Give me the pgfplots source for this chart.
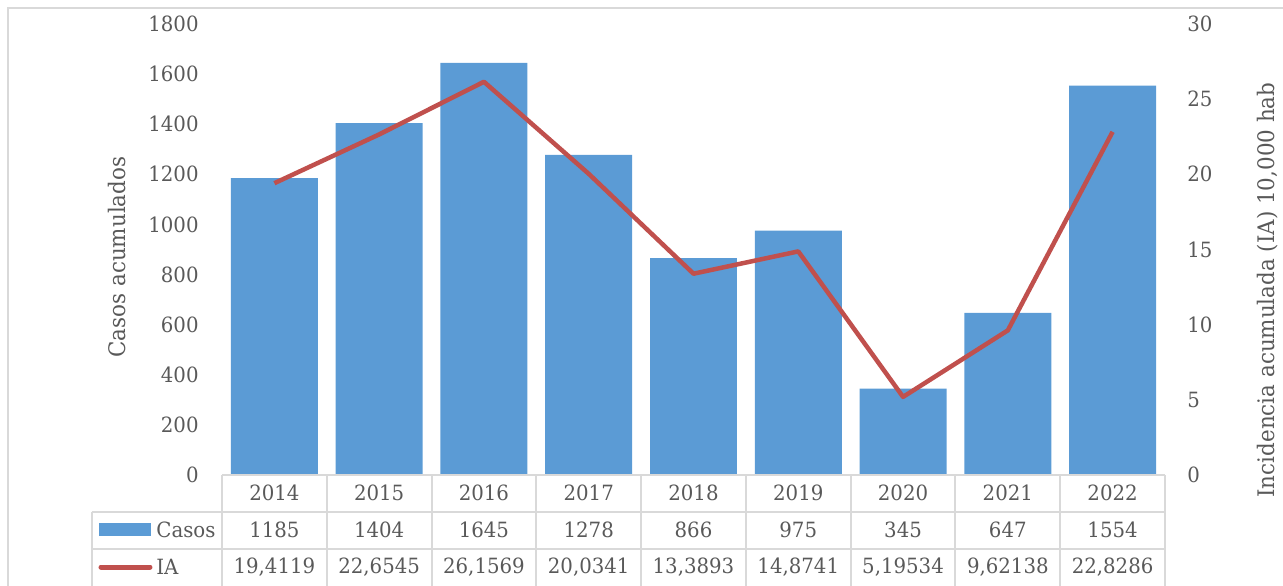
\documentclass[border=0pt]{standalone}
\usepackage{fontspec}
\setmainfont{DejaVu Serif}[FakeStretch=0.94]
\usepackage{pgfplots}
\usepackage{pgfplotstable}
\pgfplotsset{compat=1.18}
\definecolor{barblue}{HTML}{5B9BD5}
\definecolor{linered}{HTML}{C0504D}
\definecolor{txt}{HTML}{595959}
\definecolor{gridc}{HTML}{D9D9D9}
\newcommand{\cf}{\fontsize{10.5pt}{12.5pt}\selectfont}
\newcommand{\tf}{\fontsize{11.4pt}{13.5pt}\selectfont}

% year, casos acumulados, incidencia acumulada (IA)
\pgfplotstableread{
x year casos ia iatxt
0 2014 1185 19.4119 19,4119
1 2015 1404 22.6545 22,6545
2 2016 1645 26.1569 26,1569
3 2017 1278 20.0341 20,0341
4 2018 866 13.3893 13,3893
5 2019 975 14.8741 14,8741
6 2020 345 5.19534 5,19534
7 2021 647 9.62138 9,62138
8 2022 1554 22.8286 22,8286
}\datos

\pgfplotsset{
  base/.style={
    scale only axis, width=471.5pt, height=225.5pt,
    xmin=-0.5, xmax=8.5, xtick=\empty,
    axis line style={draw=none}, major tick length=0pt,
    tick label style={font=\cf, text=txt},
    /pgf/number format/assume math mode=true,
    /pgf/number format/1000 sep={},
    scaled ticks=false, clip=false
  },
  tablerow/.style={
    draw=none, mark=none, nodes near coords, point meta=explicit symbolic,
    nodes near coords align=center,
    every node near coord/.append style={font=\cf, text=txt, yshift=#1}
  }
}

\begin{document}
\begin{tikzpicture}
\useasboundingbox (-111pt,-55pt) rectangle (530.5pt,237.5pt);
% chart border
\draw[gridc, line width=0.6pt] (-107pt,-60pt) -- (-107pt,233.5pt) -- (540pt,233.5pt);

\begin{axis}[base, ymin=0, ymax=1800, ytick={0,200,...,1800},
  yticklabel style={anchor=east, inner sep=0pt, xshift=-11.5pt}]
\addplot[ybar, bar width=0.83, bar shift=0pt, fill=barblue, draw=none]
  table[x=x, y=casos] {\datos};
% data table rows
\addplot[tablerow=-9pt] table[x=x, y expr=0, meta=year] {\datos};
\addplot[tablerow=-27.5pt] table[x=x, y expr=0, meta=casos] {\datos};
\addplot[tablerow=-46pt] table[x=x, y expr=0, meta=iatxt] {\datos};
\end{axis}

\begin{axis}[base, ymin=0, ymax=30, ytick={0,5,...,30}, axis y line*=right,
  axis x line=none,
  yticklabel style={anchor=west, inner sep=0pt, xshift=11pt}]
\addplot[linered, line width=2.25pt, line join=round, mark=none]
  table[x=x, y=ia] {\datos};
\end{axis}

% data table grid
\begin{scope}[gridc, line width=1pt]
\draw (0,0) -- (471.5pt,0);
\draw (-65pt,-18.5pt) -- (471.5pt,-18.5pt);
\draw (-65pt,-37pt) -- (471.5pt,-37pt);
\draw (-65pt,-18.5pt) -- (-65pt,-60pt);
\foreach \k in {0,...,9} {\draw ({\k*471.5pt/9},0) -- ({\k*471.5pt/9},-60pt);}
\end{scope}
% legend keys in the table
\fill[barblue] (-61.5pt,-24pt) rectangle (-35.5pt,-30.5pt);
\node[anchor=west, inner sep=0pt, font=\cf, text=txt] at (-33pt,-27.5pt) {Casos};
\draw[linered, line width=2.5pt, line cap=round] (-60.5pt,-46pt) -- (-36pt,-46pt);
\node[anchor=west, inner sep=0pt, font=\cf, text=txt] at (-33pt,-46pt) {IA};

% axis titles
\node[rotate=90, font=\tf, text=txt] at (-52.5pt,109pt) {Casos acumulados};
\node[rotate=90, font=\tf, text=txt] at (523pt,92.5pt) {Incidencia acumulada (IA) 10,000 hab};
\end{tikzpicture}
\end{document}
